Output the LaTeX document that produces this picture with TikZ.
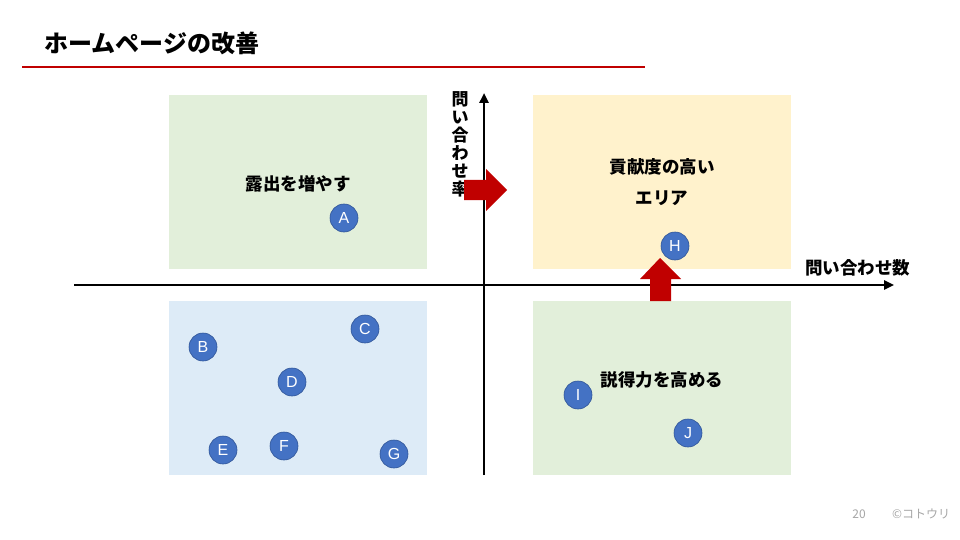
\documentclass[tikz,border=0pt]{standalone}
\usepackage{fontspec}
\setmainfont{Noto Sans CJK JP}
\setsansfont{Liberation Sans}
\usetikzlibrary{arrows.meta}
\definecolor{tred}{HTML}{C00000}
\definecolor{qgreen}{HTML}{E2EFDA}
\definecolor{qblue}{HTML}{DDEBF7}
\definecolor{qyellow}{HTML}{FFF2CC}
\definecolor{dotblue}{HTML}{4472C4}
\definecolor{dotedge}{HTML}{2F5597}
\definecolor{footgrey}{HTML}{A6A6A6}
\tikzset{
  dot/.style={circle, fill=dotblue, draw=dotedge, line width=0.6pt, minimum size=28pt, inner sep=0pt, text=white, font=\sffamily\fontsize{16}{16}\selectfont},
  lbl/.style={font=\bfseries\fontsize{17.5}{17.5}\selectfont, inner sep=0pt},
  axis/.style={line width=2.4pt, -{Triangle[length=10pt,width=9pt]}},
  bigarrow/.style={fill=tred, draw=none},
  foot/.style={text=footgrey, font=\fontsize{12}{12}\selectfont, inner sep=0pt}
}
\begin{document}
\begin{tikzpicture}[x=1pt,y=-1pt]
\useasboundingbox (0,0) rectangle (960,540);
% title
\node[anchor=west, inner sep=0pt, font=\bfseries\fontsize{24}{24}\selectfont] (title) at (44,43) {ホームページの改善};
\coordinate (rl) at (22,67);
\coordinate (rr) at (645,67);
\draw[tred, line width=2pt] (rl) -- (rr);
% quadrants
\fill[qgreen] (169,95) rectangle (427,269);
\fill[qblue] (169,301) rectangle (427,475);
\fill[qyellow] (533,95) rectangle (791,269);
\fill[qgreen] (533,301) rectangle (791,475);
% labels in quadrants
\node[lbl] (q1) at (298,184) {露出を増やす};
\node[lbl] (q2a) at (662,167) {貢献度の高い};
\node[lbl] (q2b) at (662,198) {エリア};
\node[lbl] (q4) at (662,380) {説得力を高める};
% axes
\coordinate (xs) at (74,285);
\coordinate (xe) at (894,285);
\coordinate (ys) at (484,475);
\coordinate (ye) at (484,93);
\draw[axis] (xs) -- (xe);
\draw[axis] (ys) -- (ye);
\node[font=\bfseries\fontsize{17.5}{17.5}\selectfont, anchor=west, inner sep=0pt] (xl) at (805,268) {問い合わせ数};
\node[font=\bfseries\fontsize{17}{18}\selectfont, align=center, anchor=north, inner sep=0pt] (yl) at (460,91) {問\\い\\合\\わ\\せ\\率};
% red arrows
\fill[bigarrow] (464,180) -- (486,180) -- (486,169) -- (507,190) -- (486,211) -- (486,200) -- (464,200) -- cycle;
\fill[bigarrow] (650,301) -- (650,279) -- (640,279) -- (660,258) -- (681,279) -- (671,279) -- (671,301) -- cycle;
% dots
\node[dot] (A) at (344,218) {A};
\node[dot] (B) at (203,347) {B};
\node[dot] (C) at (365,329) {C};
\node[dot] (D) at (292,382) {D};
\node[dot] (E) at (223,450) {E};
\node[dot] (F) at (284,446) {F};
\node[dot] (G) at (394,454) {G};
\node[dot] (H) at (675,246) {H};
\node[dot] (I) at (578,395) {I};
\node[dot] (J) at (688,433) {J};
% footer
\node[foot] (pg) at (859,514) {20};
\node[foot] (cp) at (921,514) {©コトウリ};
\end{tikzpicture}
\end{document}
